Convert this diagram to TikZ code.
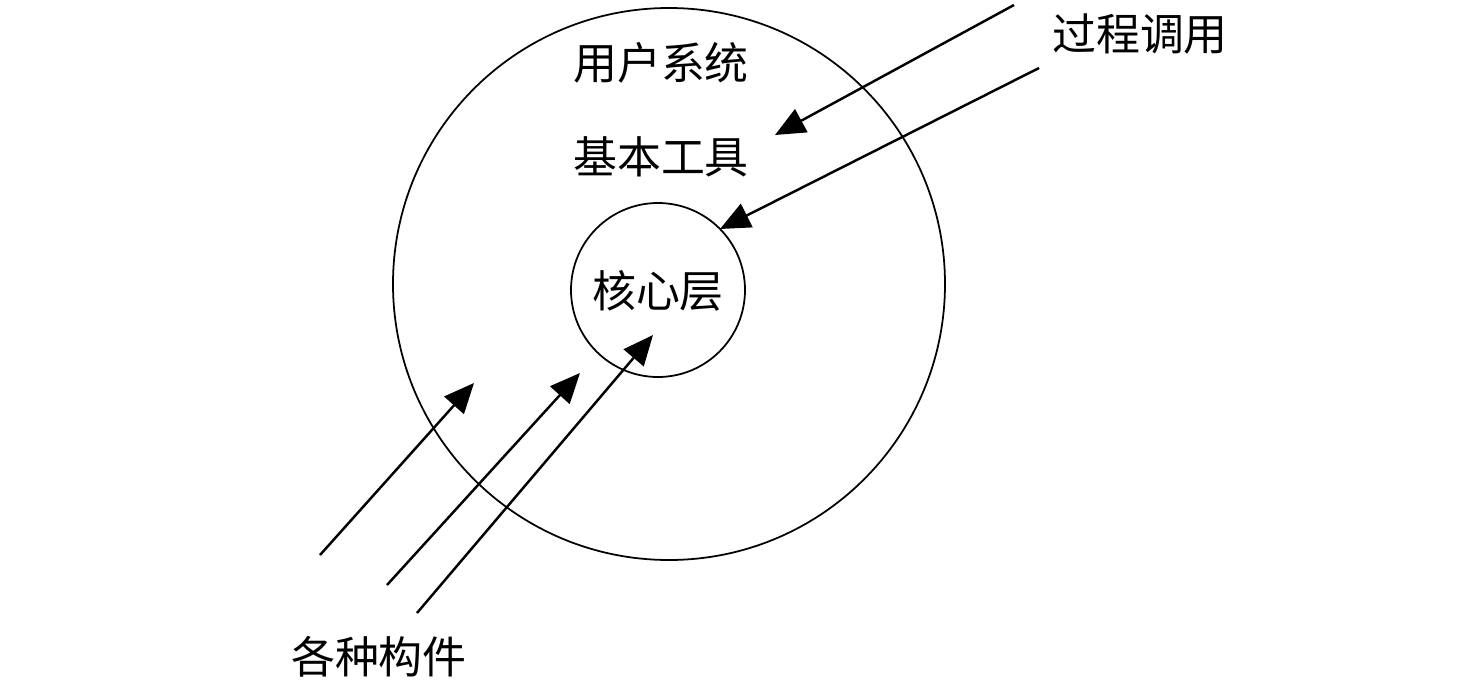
\documentclass[tikz,border=0pt]{standalone}
\usepackage{fontspec}
\setmainfont{Noto Sans CJK SC}
\usepackage{tikz}
\usetikzlibrary{arrows.meta,positioning}

\begin{document}
\begin{tikzpicture}[every node/.style={font=\fontsize{12.5}{14}\selectfont},
  ring/.style={draw,circle,line width=0.5pt,inner sep=0pt},
  call/.style={-{Triangle[length=3mm,width=2.6mm]},line width=0.7pt}]
  \useasboundingbox (0,0) rectangle (14.74,6.86);
  \node[ring,minimum size=5.52cm] (outer) at (6.69,4.02) {};
  \node[ring,minimum size=1.74cm] (core) at (6.58,3.96) {};
  \node (user) at (6.61,6.23) {用户系统};
  \node (tools) at (6.61,5.29) {基本工具};
  \node (kern) at (6.58,3.95) {核心层};
  \node (proc) at (11.40,6.52) {过程调用};
  \node (comp) at (3.79,0.29) {各种构件};
  % procedure calls
  \coordinate (p1) at (10.14,6.81); \coordinate (t1) at (7.75,5.51);
  \coordinate (p2) at (10.39,6.18); \coordinate (t2) at (7.20,4.57);
  \draw[call] (p1)--(t1); \draw[call] (p2)--(t2);
  % components
  \coordinate (c1) at (3.20,1.31); \coordinate (s1) at (4.74,3.03);
  \coordinate (c2) at (3.87,1.01); \coordinate (s2) at (5.80,3.13);
  \coordinate (c3) at (4.17,0.73); \coordinate (s3) at (6.53,3.51);
  \draw[call] (c1)--(s1); \draw[call] (c2)--(s2); \draw[call] (c3)--(s3);
\end{tikzpicture}
\end{document}
